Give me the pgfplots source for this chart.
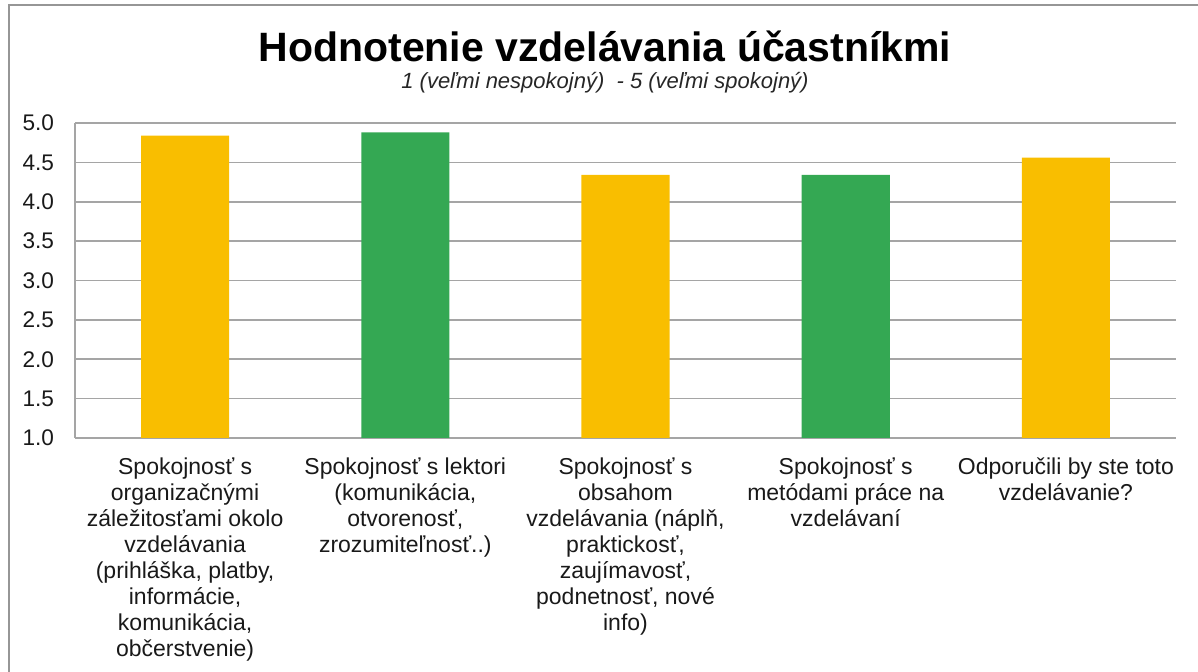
\documentclass[border=0pt]{standalone}
\usepackage{pgfplots}
\pgfplotsset{compat=1.18}
\usepackage{fontspec}
\setmainfont{Liberation Sans}
\definecolor{barorange}{RGB}{249,190,0}
\definecolor{bargreen}{RGB}{52,168,83}
\definecolor{gridgray}{RGB}{165,165,165}
\definecolor{framegray}{RGB}{150,150,150}
\begin{document}
\begin{tikzpicture}
\path[use as bounding box] (-37.5pt,-117pt) rectangle (561.5pt,219pt);
\draw[framegray, line width=0.8pt] (-33pt,-118pt) -- (-33pt,216.5pt) -- (562pt,216.5pt);
\begin{axis}[
  at={(0,0)}, anchor=south west,
  scale only axis, width=550.5pt, height=157.5pt,
  xmin=-0.5, xmax=4.5, ymin=1, ymax=5,
  axis x line*=bottom, axis y line*=left,
  ytick={1,1.5,2,2.5,3,3.5,4,4.5,5},
  xtick={0,1,2,3,4},
  xticklabels={
    {Spokojnosť s\\organizačnými\\záležitosťami okolo\\vzdelávania\\(prihláška, platby,\\informácie,\\komunikácia,\\občerstvenie)},
    {Spokojnosť s lektori\\(komunikácia,\\otvorenosť,\\zrozumiteľnosť..)},
    {Spokojnosť s\\obsahom\\vzdelávania (náplň,\\praktickosť,\\zaujímavosť,\\podnetnosť, nové\\info)},
    {Spokojnosť s\\metódami práce na\\vzdelávaní},
    {Odporučili by ste toto\\vzdelávanie?}},
  major tick length=0pt,
  ymajorgrids,
  grid style={gridgray, line width=0.8pt},
  axis line style={gridgray, line width=0.8pt, -},
  yticklabel style={/pgf/number format/fixed, /pgf/number format/fixed zerofill,
    /pgf/number format/precision=1, /pgf/number format/assume math mode=true,
    font=\fontsize{11.3}{13}\selectfont, text=black!90, xshift=-7pt},
  xticklabel style={align=center, anchor=north, yshift=-6.5pt,
    font=\fontsize{11.5}{13}\selectfont, text=black!90},
  ybar, bar width=0.4,
]
\addplot[fill=barorange, draw=none, bar shift=0pt] coordinates {(0,4.84) (2,4.34) (4,4.56)};
\addplot[fill=bargreen, draw=none, bar shift=0pt] coordinates {(1,4.88) (3,4.34)};
\end{axis}
\node[font=\bfseries\fontsize{20.5}{24}\selectfont] at (265pt,196pt) {Hodnotenie vzdelávania účastníkmi};
\node[font=\itshape\fontsize{11}{12}\selectfont, text=black!85] at (265pt,177.5pt) {1 (veľmi nespokojný)\ \ - 5 (veľmi spokojný)};
\end{tikzpicture}
\end{document}
